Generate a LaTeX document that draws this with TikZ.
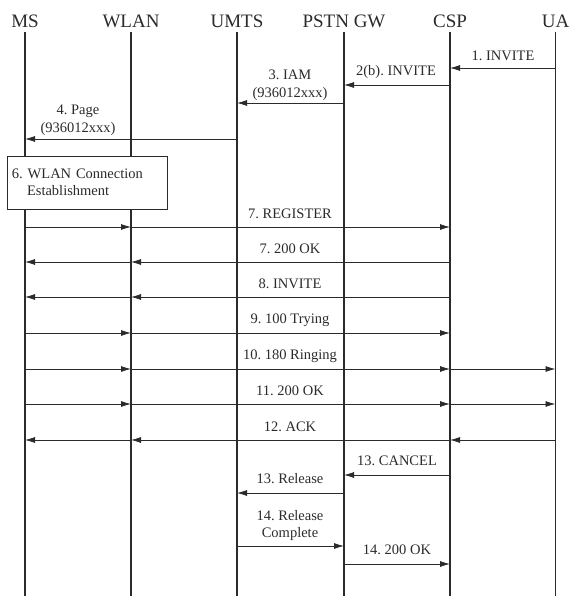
\documentclass[tikz,border=0pt]{standalone}
\usepackage{fontspec}
\setmainfont{Liberation Serif}
\usetikzlibrary{arrows.meta}
\definecolor{lineGray}{HTML}{2B2B2B}
\frenchspacing

\begin{document}
\begin{tikzpicture}[
  x=1pt, y=-1pt,
  entity/.style={font=\fontsize{19}{22}\selectfont, text=lineGray, inner sep=0pt},
  life/.style={draw=lineGray, line width=1.1pt},
  msg/.style={-{Latex[length=10pt, width=6pt]}, draw=lineGray, line width=0.8pt},
  lbl/.style={font=\fontsize{14.5}{17.5}\selectfont, text=lineGray, align=center, inner sep=0pt},
  proc/.style={draw=lineGray, line width=0.8pt, fill=white, text width=150pt, inner xsep=5pt,
    minimum height=53pt, align=left, font=\fontsize{14.5}{17.5}\selectfont, text=lineGray}
]
\useasboundingbox (0,0) rectangle (570,596);

% Lifelines
\foreach \n/\x/\name in {ms/25/MS, wlan/131/WLAN, umts/237/UMTS, pstn/344/PSTN GW, csp/450/CSP, ua/555.5/UA} {
  \node[entity] (\n) at (\x,21) {\name};
  \coordinate (\n top) at (\x,32);
  \coordinate (\n end) at (\x,596);
  \draw[life] (\n top) -- (\n end);
}

% WLAN connection setup
\node[proc] (wlanconn) at (87,182.5) {6. WLAN Connection\\\hspace*{15pt}Establishment};

% Message levels
\foreach \m/\y in {m1/68, m2/85, m3/103, m4/139, m7/227, m7b/262, m8/297, m9/333, m10/369,
  m11/404, m12/440, m13/475, m13b/493, m14/546, m14b/564} {
  \coordinate (\m) at (0,\y);
}

% Messages, one arrow per hop
\foreach \m/\a/\b in {m1/ua/csp, m2/csp/pstn, m3/pstn/umts, m4/umts/ms,
  m7/ms/wlan, m7/wlan/csp, m7b/csp/wlan, m7b/wlan/ms, m8/csp/wlan, m8/wlan/ms,
  m9/ms/wlan, m9/wlan/csp, m10/ms/wlan, m10/wlan/csp, m10/csp/ua,
  m11/ms/wlan, m11/wlan/csp, m11/csp/ua, m12/ua/csp, m12/csp/wlan, m12/wlan/ms,
  m13/csp/pstn, m13b/pstn/umts, m14/umts/pstn, m14b/pstn/csp} {
  \draw[msg] (\a |- \m) -- (\b |- \m);
}

% Labels
\foreach \n/\x/\y/\t in {l1/503/56/{1. INVITE}, l2/396/72/{2(b). INVITE},
  l3/290/85/{3. IAM\\(936012xxx)}, l4/78/120.5/{4. Page\\(936012xxx)},
  l7/290/214/{7. REGISTER}, l7b/290/249/{7. 200 OK}, l8/290/284/{8. INVITE},
  l9/290/320/{9. 100 Trying}, l10/290/356/{10. 180 Ringing}, l11/290/391/{11. 200 OK},
  l12/290/427/{12. ACK}, l13/397/461/{13. CANCEL}, l13b/290/479/{13. Release},
  l14/290/525.5/{14. Release\\Complete}, l14b/397/550/{14. 200 OK}} {
  \node[lbl] (\n) at (\x,\y) {\t};
}
\end{tikzpicture}
\end{document}
